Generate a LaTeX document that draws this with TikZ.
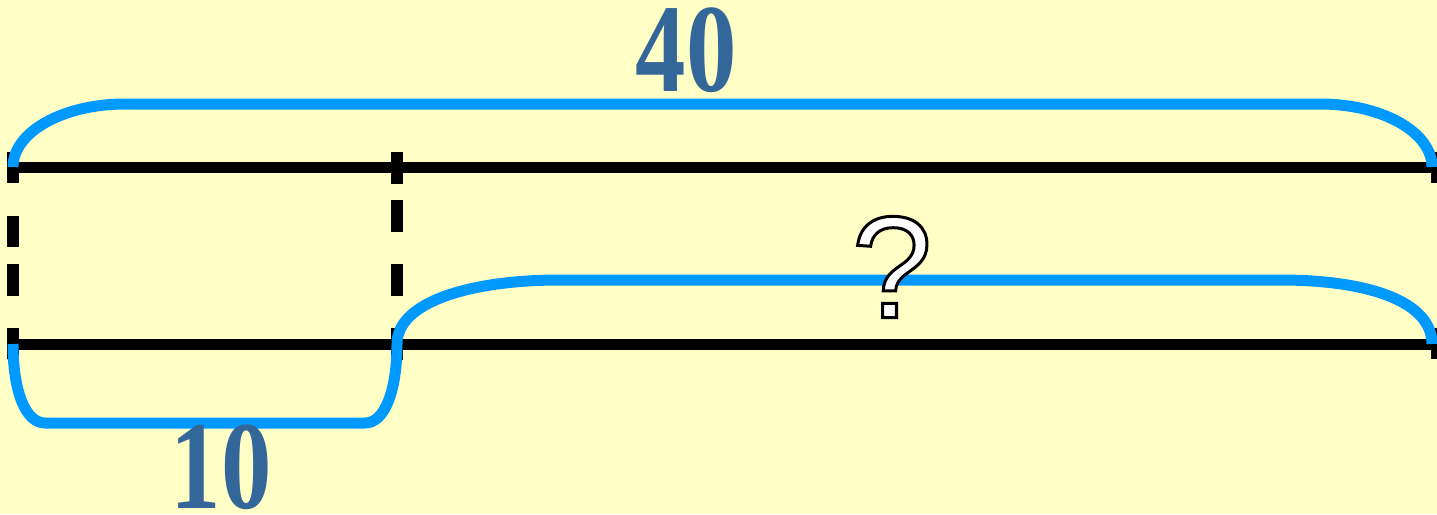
\documentclass[tikz,border=0pt]{standalone}
\usepackage{fontspec}
\setmainfont{Liberation Serif}
\newfontfamily\qfont{Liberation Sans}
\usetikzlibrary{positioning}
\definecolor{myYellow}{HTML}{FFFFC6}
\definecolor{myBlue}{HTML}{0099FF}
\definecolor{myNum}{HTML}{336699}
% outlined text (fill white, stroke black)
\newcommand{\myOutline}[1]{%
	\special{pdf:code 2 Tr 3 w 0 0 0 RG}#1\special{pdf:code 0 Tr}}
\tikzset{
myLine/.style={line width=11pt, black}
, myTick/.style={line width=12pt, black}
% dashed uprights
, myDashL/.style={line width=12pt, black,
	dash pattern=on 31pt off 33pt on 31pt off 17pt on 32pt off 32pt on 31pt off 0pt}
, myDashM/.style={line width=12pt, black,
	dash pattern=on 32pt off 16pt on 32pt off 32pt on 32pt off 32pt on 32pt off 0pt}
% braces
, myBrace/.style={line width=11pt, color=myBlue, line join=round}
, myNumber/.style={
	text=myNum, inner sep=0pt,
	font=\fontsize{126}{126}\selectfont\bfseries
}
, myQuestion/.style={
	inner sep=0pt, text=white,
	font=\fontsize{145}{145}\selectfont\qfont
}
}

\begin{document}
\begin{tikzpicture}[x=1pt,y=-1pt]
	% background
	\fill[myYellow] (0,0) rectangle (1437,514);
	\useasboundingbox (0,0) rectangle (1437,514);
	% points
	\coordinate (TopL) at (13,167);
	\coordinate (TopR) at (1437,167);
	\coordinate (BotL) at (13,344);
	\coordinate (BotM) at (397,344);
	\coordinate (BotR) at (1437,344);
	% lines
	\draw[myLine] (7,167) -- (TopR);
	\draw[myLine] (7,344) -- (BotR);
	\draw[myTick] (1437,152) -- (1437,183);
	\draw[myTick] (1437,328) -- (1437,359);
	\draw[myDashL] (13,152) -- (13,359);
	\draw[myDashM] (397,152) -- (397,360);
	% braces
	\draw[myBrace] (TopL) .. controls (13,132) and (63,104) .. (125,104)
		-- (1320,104) .. controls (1382,104) and (1432,132) .. (1432,167);
	\draw[myBrace] (BotL) .. controls (13,390) and (25,423) .. (45,423)
		-- (365,423) .. controls (385,423) and (397,390) .. (BotM)
		.. controls (397,302) and (470,280) .. (560,280)
		-- (1280,280) .. controls (1370,280) and (1432,302) .. (1432,344);
	% labels
	\node[myNumber] (Total) at (686,50) {\scalebox{0.8}[1]{40}};
	\node[myNumber] (Part) at (221,467) {\scalebox{0.8}[1]{10}};
	\node[myQuestion] (Rest) at (892,267) {\myOutline{?}};
\end{tikzpicture}
\end{document}
